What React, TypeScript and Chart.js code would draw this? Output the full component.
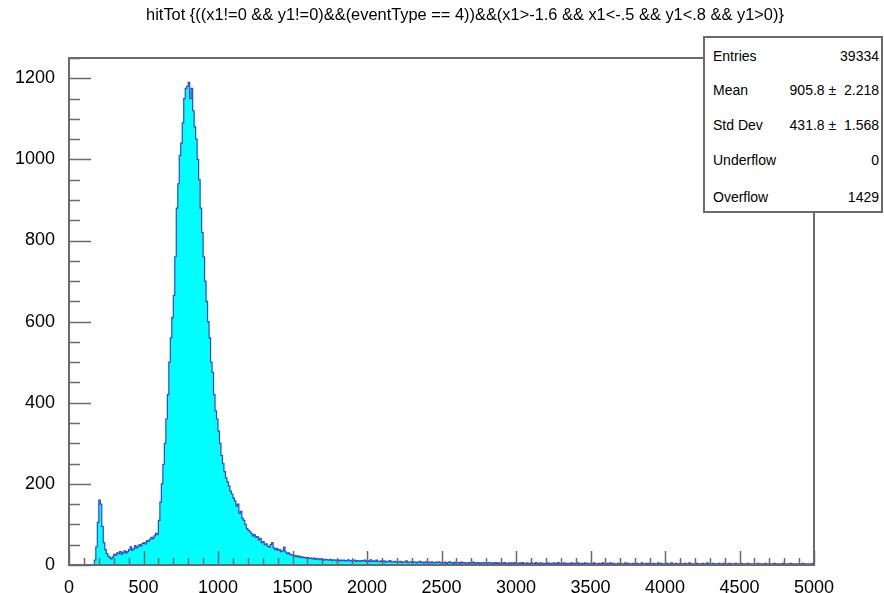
import React, { useEffect, useRef } from "react";
import { Chart, registerables } from "chart.js";

Chart.register(...registerables);

const TITLE =
  "hitTot {((x1!=0 && y1!=0)&&(eventType == 4))&&(x1>-1.6 && x1<-.5 && y1<.8 && y1>0)}";

const X_MIN = 0;
const X_MAX = 5000;
const BIN_WIDTH = 10;
const Y_MIN = 0;
const Y_MAX = 1250;
const X_MAJOR_STEP = 500;
const X_MINOR_STEP = 100;
const Y_MAJOR_STEP = 200;
const Y_MINOR_STEP = 50;

// bin contents, 10 units per bin, starting at 0
const countsRise = [
  0, 0, 0, 0, 0, 0, 0, 0, 0, 0,
  0, 0, 0, 0, 0, 0, 0, 12, 45, 105,
  160, 150, 95, 55, 38, 28, 22, 18, 15, 20,
  26, 24, 30, 28, 33, 27, 31, 35, 29, 33,
  38, 45, 36, 40, 48, 42, 46, 50, 47, 53,
  55, 52, 60, 58, 63, 68, 65, 72, 78, 75,
];
const countsPeak = [
  110, 155, 200, 248, 300, 360, 420, 500, 560, 610,
  665, 760, 880, 940, 1010, 1040, 1090, 1150, 1175, 1180,
  1190, 1150, 1175, 1120, 1080, 1050, 1000, 950, 880, 820,
  760, 700, 650, 600, 560, 500, 475, 420, 380, 360,
  330, 300, 270, 250, 230, 215, 205, 195, 182, 175,
  165, 158, 145, 150, 128, 132, 115, 110, 100, 90,
];
const countsTail1 = [
  86, 82, 78, 72, 75, 68, 70, 62, 66, 55,
  58, 50, 52, 46, 44, 50, 55, 42, 38, 41,
  36, 38, 33, 35, 44, 32, 28, 30, 26, 24,
  25, 22, 23, 20, 22, 19, 20, 18, 19, 17,
  18, 16, 17, 15, 17, 14, 16, 15, 13, 15,
  14, 12, 14, 13, 12, 14, 11, 13, 12, 11,
  13, 10, 12, 11, 12, 10, 11, 13, 10, 11,
  10, 12, 9, 11, 10, 9, 11, 10, 12, 9,
];
const countsTail2 = [
  11, 9, 13, 8, 10, 9, 12, 8, 9, 10,
  8, 10, 7, 9, 8, 11, 7, 8, 9, 7,
  8, 7, 9, 6, 8, 7, 10, 6, 7, 8,
  6, 8, 7, 5, 7, 9, 6, 7, 5, 8,
  6, 7, 5, 8, 6, 5, 7, 6, 8, 5,
  6, 5, 7, 4, 6, 8, 5, 6, 4, 7,
  5, 6, 4, 7, 5, 6, 3, 5, 6, 4,
  5, 7, 4, 5, 6, 4, 5, 3, 6, 5,
  4, 5, 6, 3, 5, 4, 6, 4, 5, 3,
  5, 4, 6, 3, 4, 5, 3, 5, 4, 6,
];
const countsTail3 = [
  4, 3, 5, 4, 6, 3, 4, 5, 3, 4,
  5, 3, 4, 6, 3, 4, 5, 2, 4, 3,
  4, 5, 3, 4, 2, 5, 3, 4, 6, 3,
  4, 3, 5, 2, 4, 3, 4, 5, 3, 4,
  3, 5, 4, 2, 4, 3, 5, 3, 4, 2,
  4, 3, 5, 3, 2, 4, 3, 4, 5, 3,
  3, 4, 2, 5, 3, 4, 3, 2, 4, 3,
  4, 2, 3, 5, 3, 4, 2, 3, 4, 3,
  3, 4, 2, 3, 5, 3, 2, 4, 3, 4,
  2, 3, 4, 3, 2, 5, 3, 4, 2, 3,
];
const countsTail4 = [
  3, 4, 2, 3, 5, 2, 3, 4, 3, 2,
  4, 3, 2, 4, 3, 2, 5, 3, 3, 2,
  3, 4, 2, 3, 3, 4, 2, 3, 5, 2,
  3, 2, 4, 3, 2, 3, 4, 2, 3, 4,
  2, 3, 3, 4, 2, 3, 2, 4, 3, 2,
  3, 4, 2, 3, 2, 4, 3, 2, 3, 3,
  2, 3, 4, 2, 3, 2, 3, 4, 2, 3,
  3, 2, 3, 4, 2, 3, 2, 3, 2, 4,
  2, 3, 2, 3, 4, 2, 3, 2, 3, 2,
  3, 2, 4, 2, 3, 2, 3, 2, 3, 4,
];

const STATS_LABELS = ["Entries", "Mean", "Std Dev", "Underflow", "Overflow"];
const STATS_VALUES = ["39334", "905.8 \u00b1  2.218", "431.8 \u00b1  1.568", "0", "1429"];

const FONT = "'Liberation Sans', Arial, Helvetica, sans-serif";
const AXIS_COLOR = "#6a6a6a";

const rootFrame = {
  id: "rootFrame",
  afterDatasetsDraw(chart: any) {
    const { ctx, chartArea: a, scales } = chart;
    const xs = scales.x;
    const ys = scales.y;
    ctx.save();
    ctx.strokeStyle = AXIS_COLOR;
    ctx.lineWidth = 1.5;
    ctx.beginPath();
    for (let v = X_MIN; v <= X_MAX; v += X_MINOR_STEP) {
      const px = Math.round(xs.getPixelForValue(v)) + 0.5;
      const len = v % X_MAJOR_STEP === 0 ? 14 : 7;
      ctx.moveTo(px, a.bottom);
      ctx.lineTo(px, a.bottom - len);
    }
    for (let v = Y_MIN; v <= Y_MAX; v += Y_MINOR_STEP) {
      const py = Math.round(ys.getPixelForValue(v)) + 0.5;
      const len = v % Y_MAJOR_STEP === 0 ? 22 : 11;
      ctx.moveTo(a.left, py);
      ctx.lineTo(a.left + len, py);
    }
    ctx.stroke();
    ctx.lineWidth = 2;
    ctx.strokeRect(a.left, a.top, a.right - a.left, a.bottom - a.top);
    ctx.restore();
  },
};

export default function App() {
  const canvasRef = useRef<HTMLCanvasElement | null>(null);

  useEffect(() => {
    const counts = [
      ...countsRise,
      ...countsPeak,
      ...countsTail1,
      ...countsTail2,
      ...countsTail3,
      ...countsTail4,
    ];
    const points = counts.map((c, i) => ({ x: X_MIN + i * BIN_WIDTH, y: c }));
    points.push({ x: X_MAX, y: counts[counts.length - 1] });

    const chart = new Chart(canvasRef.current as HTMLCanvasElement, {
      type: "line",
      data: {
        datasets: [
          {
            data: points,
            stepped: "before",
            fill: "origin",
            backgroundColor: "#00ffff",
            borderColor: "#3446d0",
            borderWidth: 1.2,
            pointRadius: 0,
          },
        ],
      },
      options: {
        responsive: false,
        animation: false,
        events: [],
        layout: { padding: { top: 58, left: 0, right: 70, bottom: 0 } },
        plugins: {
          legend: { display: false },
          tooltip: { enabled: false },
          title: { display: false },
        },
        scales: {
          x: {
            type: "linear",
            min: X_MIN,
            max: X_MAX,
            grid: { display: false },
            border: { display: false },
            ticks: {
              stepSize: X_MAJOR_STEP,
              autoSkip: false,
              maxRotation: 0,
              color: "#000",
              padding: 4,
              font: { family: FONT, size: 18 },
              callback: (v: any) => String(v),
            },
            afterFit(scale: any) {
              scale.height = 28;
            },
          },
          y: {
            type: "linear",
            min: Y_MIN,
            max: Y_MAX,
            grid: { display: false },
            border: { display: false },
            ticks: {
              stepSize: Y_MAJOR_STEP,
              includeBounds: false,
              color: "#000",
              padding: 6,
              font: { family: FONT, size: 18 },
              callback: (v: any) => String(v),
            },
            afterFit(scale: any) {
              scale.width = 69;
            },
          },
        },
      } as any,
      plugins: [rootFrame],
    });
    return () => chart.destroy();
  }, []);

  const rowCenters = [20, 54, 89, 124, 161];

  return (
    <div
      style={{
        position: "fixed",
        left: 0,
        top: 0,
        width: 884,
        height: 593,
        background: "#fff",
        fontFamily: FONT,
      }}
    >
      <canvas ref={canvasRef} width={884} height={593} style={{ display: "block" }} />
      <div
        style={{
          position: "absolute",
          left: 0,
          top: 4,
          width: 930,
          height: 20,
          lineHeight: "20px",
          textAlign: "center",
          fontSize: 16.4,
          color: "#000",
          whiteSpace: "pre",
        }}
      >
        {TITLE}
      </div>
      <div
        style={{
          position: "absolute",
          left: 703,
          top: 36,
          width: 180,
          height: 177,
          boxSizing: "border-box",
          border: `2px solid ${AXIS_COLOR}`,
          background: "#fff",
        }}
      >
        {STATS_LABELS.map((lab, i) => (
          <div
            key={lab}
            style={{
              position: "absolute",
              left: 8,
              right: 2,
              top: rowCenters[i] - 2 - 8,
              height: 16,
              lineHeight: "16px",
              fontSize: 14,
              color: "#000",
              whiteSpace: "pre",
            }}
          >
            <span style={{ position: "absolute", left: 0 }}>{lab}</span>
            <span style={{ position: "absolute", right: 0 }}>{STATS_VALUES[i]}</span>
          </div>
        ))}
      </div>
    </div>
  );
}
